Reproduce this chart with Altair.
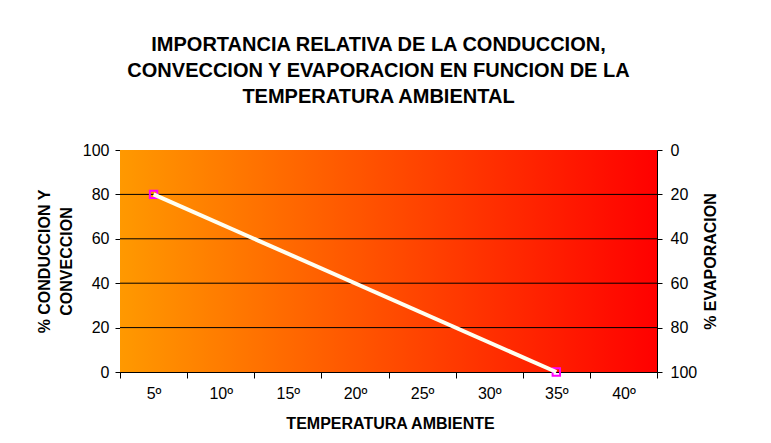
import altair as alt
import pandas as pd

# Temperature categories on the x axis
temperaturas = ["5º", "10º", "15º", "20º", "25º", "30º", "35º", "40º"]

# Series points: % conduction + convection (left axis) and % evaporation (right axis)
temp_puntos = ["5º", "35º"]
conduccion = [80, 0]
evaporacion = [20, 100]

# Horizontal gridlines on the left scale
grid_vals = [20, 40, 60, 80]

W, H = 537, 222
FONT = "Liberation Sans"
LBL = 16
TTL = 16

df = pd.DataFrame({"temp": temp_puntos, "cond": conduccion, "evap": evaporacion})
df_grid = pd.DataFrame({"g": grid_vals})

x_enc = alt.X(
    "temp:O",
    scale=alt.Scale(domain=temperaturas, paddingInner=0, paddingOuter=0),
    sort=temperaturas,
    axis=alt.Axis(
        title="TEMPERATURA AMBIENTE",
        labelAngle=0,
        tickBand="extent",
        tickSize=6,
        tickColor="black",
        domainColor="black",
        labelPadding=7,
        labelFontSize=LBL,
        labelColor="black",
        titleFontSize=TTL,
        titleFontWeight="bold",
        titleColor="black",
        titleX=270,
        titleY=51,
        titleBaseline="middle",
        titleAlign="center",
    ),
)

y_left = alt.Y(
    "cond:Q",
    scale=alt.Scale(domain=[0, 100], nice=False),
    axis=alt.Axis(
        title=["% CONDUCCION Y", "CONVECCION"],
        values=[0, 20, 40, 60, 80, 100],
        grid=False,
        tickSize=5,
        tickColor="black",
        domainColor="black",
        labelPadding=6,
        labelFontSize=LBL,
        labelColor="black",
        titleFontSize=TTL,
        titleFontWeight="bold",
        titleColor="black",
        titleAngle=270,
        titleX=-76,
        titleY=H / 2,
        titleAlign="center",
        titleBaseline="middle",
        titleLineHeight=22,
    ),
)

fondo = alt.Chart(pd.DataFrame({"k": [0]})).mark_rect(
    fill=alt.Gradient(
        gradient="linear",
        stops=[
            alt.GradientStop(color="#FF9900", offset=0),
            alt.GradientStop(color="#FF0000", offset=1),
        ],
        x1=0, x2=1, y1=0, y2=0,
    )
).encode(x=alt.value(0), x2=alt.value(W), y=alt.value(0), y2=alt.value(H))

rejilla = alt.Chart(df_grid).mark_rule(color="black", strokeWidth=1).encode(
    y=alt.Y("g:Q", scale=alt.Scale(domain=[0, 100], nice=False))
)

puntos = alt.Chart(df).mark_point(
    shape="square", size=55, filled=False, color="#FF00FF", strokeWidth=2, opacity=1
).encode(x=x_enc, y=y_left)

linea = alt.Chart(df).mark_line(color="#FFFFF2", strokeWidth=4).encode(
    x=x_enc, y=y_left
)

izquierda = alt.layer(fondo, rejilla, puntos, linea)

derecha = alt.Chart(df).mark_line(opacity=0).encode(
    x=x_enc,
    y=alt.Y(
        "evap:Q",
        scale=alt.Scale(domain=[0, 100], reverse=True, nice=False),
        axis=alt.Axis(
            orient="right",
            title="% EVAPORACION",
            values=[0, 20, 40, 60, 80, 100],
            grid=False,
            tickSize=5,
            tickColor="black",
            domainColor="black",
            labelPadding=8,
            labelFontSize=LBL,
            labelColor="black",
            titleFontSize=TTL,
            titleFontWeight="bold",
            titleColor="black",
            titleAngle=270,
            titleX=53,
            titleY=H / 2,
            titleAlign="center",
            titleBaseline="middle",
        ),
    ),
)

chart = (
    alt.layer(izquierda, derecha)
    .resolve_scale(y="independent")
    .properties(
        width=W,
        height=H,
        autosize=alt.AutoSizeParams(type="none"),
        padding={"left": 120, "top": 150, "right": 114, "bottom": 71},
        title=alt.TitleParams(
            text=[
                "IMPORTANCIA RELATIVA DE LA CONDUCCION,",
                "CONVECCION Y EVAPORACION EN FUNCION DE LA",
                "TEMPERATURA AMBIENTAL",
            ],
            font=FONT,
            fontSize=20,
            fontWeight="bold",
            color="black",
            anchor="middle",
            dx=-10,
            offset=35,
            lineHeight=26,
        ),
    )
    .configure(font=FONT)
    .configure_view(stroke="#808080", strokeWidth=1)
    .configure_axis(labelFont=FONT, titleFont=FONT)
)

chart.save("out.html", embed_options={"renderer": "svg", "actions": False})
